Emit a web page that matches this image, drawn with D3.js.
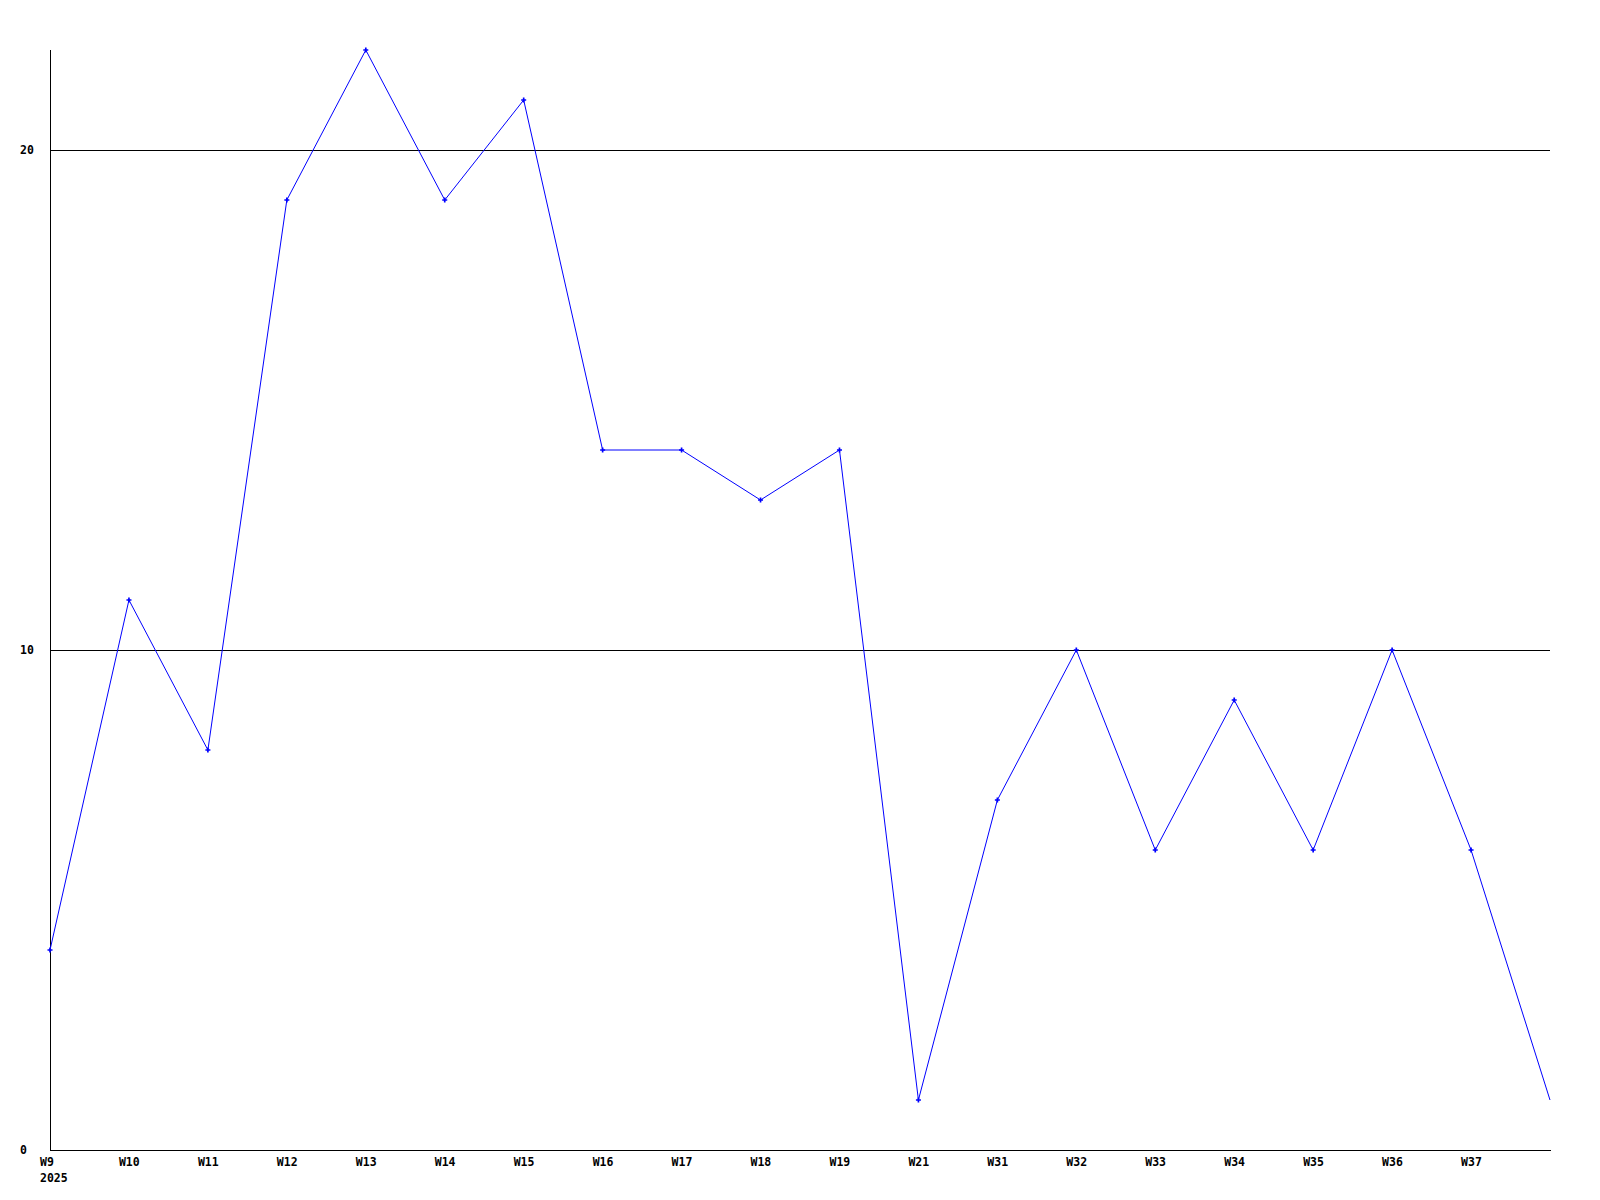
<!DOCTYPE html>
<html>
<head>
<meta charset="utf-8">
<script src="https://cdn.jsdelivr.net/npm/d3@7"></script>
<style>
  body { margin: 0; background: #fff; }
  text { font-family: "DejaVu Sans Mono", monospace; font-weight: bold; font-size: 11.5px; fill: #000; }
</style>
</head>
<body>
<div id="chart"></div>
<script>
// weekly values, last point has no label
var weeks = ["W9", "W10", "W11", "W12", "W13", "W14", "W15", "W16", "W17", "W18", "W19", "W21", "W31", "W32", "W33", "W34", "W35", "W36", "W37", ""];
var values = [4, 11, 8, 19, 22, 19, 21, 14, 14, 13, 14, 1, 7, 10, 6, 9, 6, 10, 6, 1];
var yTicks = [0, 10, 20];
var yearLabel = "2025";

var width = 1600, height = 1200;
var svg = d3.select("#chart").append("svg")
    .attr("width", width)
    .attr("height", height);

var x = d3.scaleLinear().domain([0, weeks.length - 1]).range([50, 1550]);
var y = d3.scaleLinear().domain([0, 22]).range([1150, 50]);

// grid lines
svg.append("g").selectAll("line")
  .data(yTicks.filter(d => d > 0))
  .enter().append("line")
  .attr("x1", 50).attr("x2", 1550)
  .attr("y1", d => Math.round(y(d)) + 0.5)
  .attr("y2", d => Math.round(y(d)) + 0.5)
  .attr("stroke", "#000")
  .attr("shape-rendering", "crispEdges");

// axes lines
svg.append("line")
  .attr("x1", 50.5).attr("x2", 50.5)
  .attr("y1", 50).attr("y2", 1151)
  .attr("stroke", "#000")
  .attr("shape-rendering", "crispEdges");
svg.append("line")
  .attr("x1", 50).attr("x2", 1551)
  .attr("y1", 1150.5).attr("y2", 1150.5)
  .attr("stroke", "#000")
  .attr("shape-rendering", "crispEdges");

// y labels
svg.append("g").selectAll("text")
  .data(yTicks)
  .enter().append("text")
  .attr("x", 20)
  .attr("y", d => y(d) + 4)
  .text(d => d);

// x labels
svg.append("g").selectAll("text")
  .data(weeks)
  .enter().append("text")
  .attr("x", (d, i) => x(i) - 10)
  .attr("y", 1166)
  .text(d => d);

svg.append("text")
  .attr("x", 40)
  .attr("y", 1182)
  .text(yearLabel);

// series line
var line = d3.line()
  .x((d, i) => x(i))
  .y(d => y(d));

svg.append("path")
  .datum(values)
  .attr("d", line)
  .attr("fill", "none")
  .attr("stroke", "#0000ff")
  .attr("stroke-width", 1);

// point markers
svg.append("g").selectAll("path")
  .data(values.slice(0, values.length - 1))
  .enter().append("path")
  .attr("d", d3.symbol().type(d3.symbolCross).size(14))
  .attr("transform", (d, i) => "translate(" + x(i) + "," + y(d) + ")")
  .attr("fill", "#0000ff");
</script>
</body>
</html>
